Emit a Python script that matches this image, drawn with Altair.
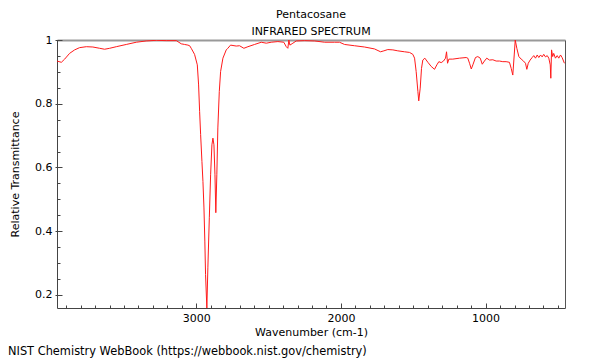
import altair as alt
import pandas as pd

# Spectrum (wavenumber in cm-1, relative transmittance)
wavenumber = [
    3963, 3933, 3910, 3876, 3841, 3807, 3760, 3715, 3668, 3634, 3599, 3553, 3484, 3415, 3346,
    3276, 3207, 3138, 3104, 3081, 3058, 3046, 3035, 3012, 2993, 2984, 2977, 2970, 2961, 2954,
    2947, 2941, 2936, 2927, 2920, 2910, 2901, 2892, 2885, 2878, 2871, 2865, 2858, 2851, 2841,
    2832, 2816, 2793, 2782, 2763, 2724, 2701, 2671, 2643, 2597, 2551, 2516, 2482, 2436, 2395,
    2378, 2367, 2360, 2353, 2332, 2309, 2252, 2182, 2113, 2044, 2010, 1975, 1906, 1837, 1768,
    1726, 1703, 1676, 1641, 1607, 1560, 1526, 1503, 1491, 1480, 1468, 1462, 1452, 1443, 1434,
    1420, 1399, 1376, 1353, 1337, 1323, 1307, 1291, 1277, 1270, 1263, 1254, 1227, 1180, 1134,
    1123, 1111, 1099, 1088, 1070, 1054, 1037, 1023, 1008, 992, 973, 950, 927, 904, 881,
    858, 835, 823, 812, 802, 795, 784, 770, 754, 738, 724, 715, 705, 692, 678,
    667, 655, 643, 632, 620, 609, 598, 586, 574, 563, 553, 549, 544, 536, 529,
    517, 505, 494, 482, 471, 455,
]
transmittance = [
    0.934, 0.930, 0.940, 0.958, 0.969, 0.976, 0.979, 0.978, 0.974, 0.971, 0.974, 0.979, 0.986, 0.993, 0.997,
    0.999, 0.998, 0.998, 0.988, 0.986, 0.984, 0.982, 0.974, 0.955, 0.922, 0.859, 0.776, 0.703, 0.619, 0.556,
    0.473, 0.369, 0.264, 0.159, 0.285, 0.442, 0.577, 0.671, 0.692, 0.671, 0.577, 0.458, 0.577, 0.724, 0.838,
    0.901, 0.943, 0.969, 0.974, 0.984, 0.981, 0.982, 0.974, 0.979, 0.986, 0.993, 0.990, 0.993, 0.995, 0.993,
    0.979, 0.974, 1.000, 0.984, 0.990, 0.997, 0.998, 0.997, 0.993, 0.993, 0.993, 0.986, 0.982, 0.978, 0.972,
    0.963, 0.966, 0.970, 0.969, 0.966, 0.963, 0.961, 0.955, 0.943, 0.901, 0.838, 0.809, 0.849, 0.911, 0.937,
    0.943, 0.930, 0.917, 0.908, 0.922, 0.932, 0.929, 0.934, 0.943, 0.963, 0.927, 0.940, 0.940, 0.943, 0.945,
    0.943, 0.927, 0.909, 0.922, 0.945, 0.948, 0.943, 0.924, 0.934, 0.943, 0.937, 0.938, 0.934, 0.934, 0.932,
    0.932, 0.930, 0.911, 0.890, 0.953, 1.000, 0.974, 0.948, 0.940, 0.934, 0.927, 0.908, 0.927, 0.937, 0.945,
    0.951, 0.943, 0.953, 0.945, 0.953, 0.947, 0.955, 0.947, 0.951, 0.943, 0.922, 0.880, 0.969, 0.948, 0.958,
    0.943, 0.951, 0.943, 0.953, 0.945, 0.927,
]

x_major = [3000, 2000, 1000]
x_minor = [3900, 3800, 3700, 3600, 3500, 3400, 3300, 3200, 3100, 2900, 2800, 2700, 2600, 2500,
           2400, 2300, 2200, 2100, 1900, 1800, 1700, 1600, 1500, 1400, 1300, 1200, 1100,
           900, 800, 700, 600, 500]
y_major = [0.2, 0.4, 0.6, 0.8, 1.0]
y_minor = [0.2, 0.25, 0.3, 0.35, 0.4, 0.45, 0.5, 0.55, 0.6, 0.65, 0.7, 0.75, 0.8, 0.85, 0.9, 0.95, 1.0]

title_text = "Pentacosane"
subtitle_text = "INFRARED SPECTRUM"
x_title = "Wavenumber (cm-1)"
y_title = "Relative Transmittance"
footer_text = "NIST Chemistry WebBook (https://webbook.nist.gov/chemistry)"

FONT = "DejaVu Sans"
AX = "#444444"

df = pd.DataFrame({"wn": wavenumber, "t": transmittance})

x_scale = alt.Scale(domain=[451, 3963], reverse=True, nice=False, zero=False)
y_scale = alt.Scale(domain=[0.159, 1.0], nice=False, zero=False)

base = alt.Chart(df)

line = base.mark_line(color="#ff1a1a", strokeWidth=1, clip=True).encode(
    x=alt.X("wn:Q", scale=x_scale, axis=alt.Axis(
        orient="bottom", values=x_major, format="d", title=x_title,
        ticks=False, tickSize=0, labelPadding=4, domainColor=AX, domainWidth=1,
        titlePadding=3, grid=False)),
    y=alt.Y("t:Q", scale=y_scale, axis=alt.Axis(
        orient="left", values=y_major,
        labelExpr="datum.value == 1 ? '1' : format(datum.value, '.1f')",
        ticks=False, tickSize=0, labelPadding=5, domainColor=AX, domainWidth=1,
        title=y_title, titlePadding=14, grid=False)),
)

major = base.mark_line(opacity=0).encode(
    x=alt.X("wn:Q", scale=x_scale, axis=alt.Axis(
        orient="bottom", values=x_major, labels=False, domain=False,
        tickSize=5, offset=-5, tickColor=AX, title=None, grid=False)),
    y=alt.Y("t:Q", scale=y_scale, axis=alt.Axis(
        orient="left", values=y_major, labels=False, domain=False,
        tickSize=7, offset=-5, tickColor=AX, title=None, grid=False)),
)

minor = base.mark_line(opacity=0).encode(
    x=alt.X("wn:Q", scale=x_scale, axis=alt.Axis(
        orient="bottom", values=x_minor, labels=False, domain=False,
        tickSize=3, offset=-3, tickColor=AX, title=None, grid=False)),
    y=alt.Y("t:Q", scale=y_scale, axis=alt.Axis(
        orient="left", values=y_minor, labels=False, domain=False,
        tickSize=3, offset=-3, tickColor=AX, title=None, grid=False)),
)

frame = base.mark_line(opacity=0).encode(
    x=alt.X("wn:Q", scale=x_scale, axis=alt.Axis(
        orient="top", labels=False, ticks=False, domain=True,
        domainColor="#999999", domainWidth=2, title=None, grid=False)),
    y=alt.Y("t:Q", scale=y_scale, axis=alt.Axis(
        orient="right", labels=False, ticks=False, domain=True,
        domainColor="#555555", domainWidth=1, title=None, grid=False)),
)

footer = alt.Chart(pd.DataFrame({"label": [footer_text]})).mark_text(
    align="left", baseline="middle", fontSize=11.4, font=FONT, color="black"
).encode(x=alt.value(-49), y=alt.value(312), text="label:N")

chart = alt.layer(line, major, minor, frame, footer).resolve_axis(
    x="independent", y="independent"
).properties(
    width=508,
    height=268,
    autosize="none",
    padding={"left": 49, "top": 32, "right": 27, "bottom": 52},
    title=alt.Title(
        title_text, subtitle=subtitle_text, fontSize=11, subtitleFontSize=11,
        font=FONT, subtitleFont=FONT, fontWeight="normal", color="black",
        subtitleColor="black", anchor="middle", offset=-3, subtitlePadding=6,
    ),
).configure_view(stroke=None).configure_axis(
    labelFont=FONT, titleFont=FONT, labelFontSize=11, titleFontSize=11,
    labelColor="black", titleColor="black", titleFontWeight="normal",
)

chart.save("out.html", embed_options={"renderer": "svg", "actions": False})
